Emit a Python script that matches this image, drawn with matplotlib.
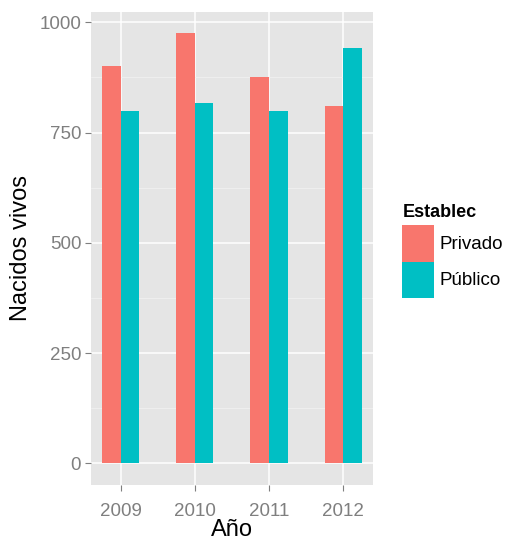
import numpy as np
import matplotlib
matplotlib.use("Agg")
from matplotlib import pyplot as plt
from matplotlib.patches import Patch

years = ["2009", "2010", "2011", "2012"]
privado = [900, 975, 875, 811]
publico = [798, 817, 800, 942]
series_names = ["Privado", "Público"]
colors = ["#F8766D", "#00BFC4"]

plt.rcParams['font.family'] = ['Liberation Sans', 'DejaVu Sans']

fig = plt.figure(figsize=(5.08, 5.40), dpi=100)
ax = fig.add_axes([0.179, 0.102, 0.555, 0.876])
ax.set_facecolor("#E5E5E5")

x = np.arange(1, len(years) + 1)
w = 0.25
ax.bar(x - w / 2, privado, width=w, color=colors[0], zorder=3)
ax.bar(x + w / 2, publico, width=w, color=colors[1], zorder=3)

ymax = max(max(privado), max(publico))
ax.set_ylim(-0.05 * ymax, 1.05 * ymax)
ax.set_xlim(0.6, 4.4)

# rejilla estilo ggplot
ax.set_yticks([0, 250, 500, 750, 1000])
ax.set_yticks([125, 375, 625, 875], minor=True)
ax.set_xticks(x)
ax.set_xticklabels(years)
ax.grid(which="major", color="white", linewidth=1.1, zorder=1)
ax.grid(which="minor", axis="y", color="#F2F2F2", linewidth=0.5, zorder=1)
for s in ax.spines.values():
    s.set_visible(False)
ax.tick_params(which="major", colors="#7F7F7F", labelsize=13.5, length=4, width=0.8)
ax.tick_params(axis="y", pad=3)
ax.tick_params(axis="x", pad=9)
ax.tick_params(which="minor", length=0)

ax.set_ylabel("Nacidos vivos", fontsize=17, labelpad=5)
ax.set_xlabel("Año", fontsize=17, labelpad=-1)

handles = [Patch(facecolor=c, edgecolor="none") for c in colors]
leg = fig.legend(handles, series_names, title="Establec", loc="upper left",
                 bbox_to_anchor=(0.792, 0.622), frameon=False, fontsize=13.5,
                 title_fontsize=13, handlelength=1.7, handleheight=2.6,
                 labelspacing=0.0, handletextpad=0.3, borderpad=0, borderaxespad=0)
leg.get_title().set_fontweight("bold")
leg._legend_box.align = "left"
leg._legend_box.sep = 3

fig.savefig("out.png", dpi=100)
